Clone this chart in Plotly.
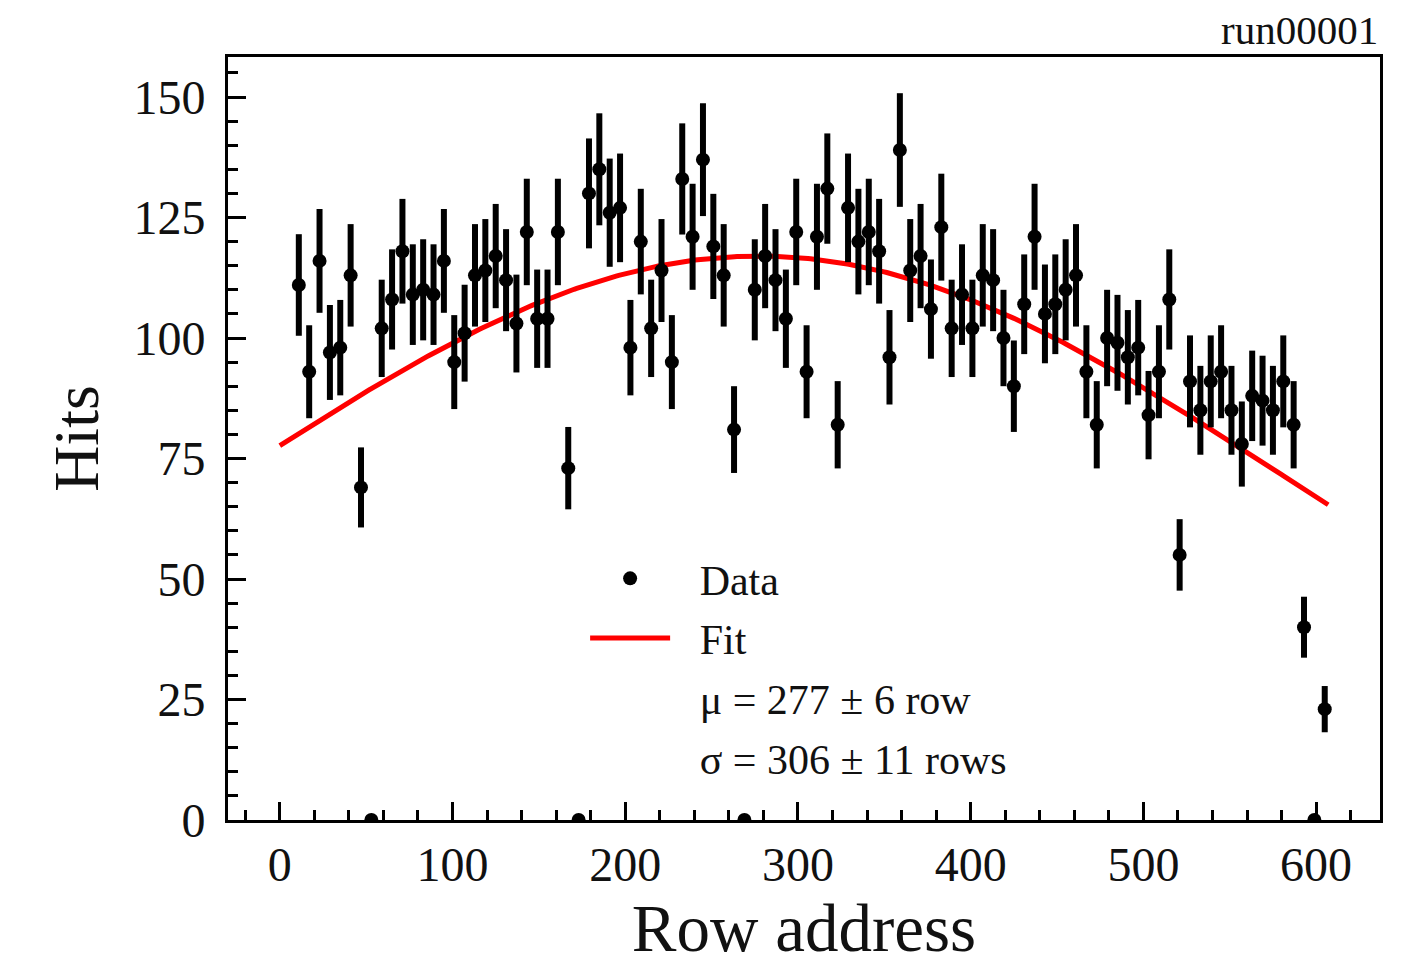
import numpy as np
import plotly.graph_objects as go

# Row-address bin centres (6-row bins)
row_address = [
    11, 17, 23, 29, 35, 41, 47, 53, 59, 65,
    71, 77, 83, 89, 95, 101, 107, 113, 119, 125,
    131, 137, 143, 149, 155, 161, 167, 173, 179, 185,
    191, 197, 203, 209, 215, 221, 227, 233, 239, 245,
    251, 257, 263, 269, 275, 281, 287, 293, 299, 305,
    311, 317, 323, 329, 335, 341, 347, 353, 359, 365,
    371, 377, 383, 389, 395, 401, 407, 413, 419, 425,
    431, 437, 443, 449, 455, 461, 467, 473, 479, 485,
    491, 497, 503, 509, 515, 521, 527, 533, 539, 545,
    551, 557, 563, 569, 575, 581, 587, 593, 599, 605,
]

hits = [
    111, 93, 116, 97, 98, 113, 69, 0, 102, 108,
    118, 109, 110, 109, 116, 95, 101, 113, 114, 117,
    112, 103, 122, 104, 104, 122, 73, 0, 130, 135,
    126, 127, 98, 120, 102, 114, 95, 133, 121, 137,
    119, 113, 81, 0, 110, 117, 112, 104, 122, 93,
    121, 131, 82, 127, 120, 122, 118, 96, 139, 114,
    117, 106, 123, 102, 109, 102, 113, 112, 100, 90,
    107, 121, 105, 107, 110, 113, 93, 82, 100, 99,
    96, 98, 84, 93, 108, 55, 91, 85, 91, 93,
    85, 78, 88, 87, 85, 91, 82, 40, 0, 23,
]

# Gaussian fit parameters (amplitude, mean, sigma)
fit_amp = 117.0
fit_mu = 277.0
fit_sigma = 306.0
fit_range = [0, 607]

mu_label = "\u03bc = 277 \u00b1 6 row"
sigma_label = "\u03c3 = 306 \u00b1 11 rows"
run_label = "run00001"
x_title = "Row address"
y_title = "Hits"

x_ticks = [0, 100, 200, 300, 400, 500, 600]
y_ticks = [0, 25, 50, 75, 100, 125, 150]

hits_err = np.sqrt(np.array(hits, dtype=float))
xf = np.linspace(fit_range[0], fit_range[1], 400)
yf = fit_amp * np.exp(-0.5 * ((xf - fit_mu) / fit_sigma) ** 2)

FONT = "Liberation Serif"
PAD = "\u2002\u200a"  # small gap between legend symbol and label

fig = go.Figure()
fig.add_trace(go.Scatter(
    x=xf, y=yf, mode="lines", name=PAD + "Fit",
    line=dict(color="#ff0000", width=5),
    legendrank=2, legendgroup="b",
))
fig.add_trace(go.Scatter(
    x=row_address, y=hits, mode="markers", name=PAD + "Data",
    marker=dict(color="black", size=14),
    error_y=dict(type="data", array=hits_err, color="black", thickness=6, width=0),
    legendrank=1, legendgroup="a",
))
fig.add_trace(go.Scatter(
    x=[None], y=[None], mode="lines", name=PAD + mu_label,
    line=dict(color="rgba(0,0,0,0)", width=0),
    legendrank=3, legendgroup="c",
))
fig.add_trace(go.Scatter(
    x=[None], y=[None], mode="lines", name=PAD + sigma_label,
    line=dict(color="rgba(0,0,0,0)", width=0),
    legendrank=4, legendgroup="d",
))

axis_common = dict(
    showgrid=False, zeroline=False, automargin=False,
    showline=True, linecolor="black", linewidth=3, mirror=True,
    ticks="inside", ticklen=18, tickwidth=3, tickcolor="black",
    tickfont=dict(family=FONT, size=48, color="#111"),
)

fig.update_xaxes(
    range=[-30, 637], tickvals=x_ticks,
    minor=dict(dtick=20, tick0=0, ticks="inside", ticklen=10, tickwidth=2.5, tickcolor="black"),
    title=dict(text=x_title, font=dict(family=FONT, size=67, color="#111")),
    ticklabelstandoff=0,
    **axis_common,
)
fig.update_yaxes(
    range=[0, 158.3], tickvals=y_ticks,
    minor=dict(dtick=5, tick0=0, ticks="inside", ticklen=10, tickwidth=2.5, tickcolor="black"),
    title=dict(text=y_title, font=dict(family=FONT, size=64, color="#111")),
    ticklabelstandoff=10,
    **axis_common,
)

fig.add_annotation(
    text=run_label, xref="paper", yref="paper", x=1.0, y=1.0,
    xanchor="right", yanchor="middle", showarrow=False, yshift=27,
    font=dict(family=FONT, size=41, color="#111"),
)

fig.update_layout(
    width=1418, height=960,
    margin=dict(l=220, r=46, t=49, b=148),
    paper_bgcolor="white", plot_bgcolor="white",
    showlegend=True,
    legend=dict(
        x=0.31, y=0.361, xanchor="left", yanchor="top",
        bgcolor="rgba(0,0,0,0)", borderwidth=0,
        font=dict(family=FONT, size=42, color="#111"),
        traceorder="grouped", tracegroupgap=2, itemwidth=80,
    ),
)

fig.write_html("out.html")
